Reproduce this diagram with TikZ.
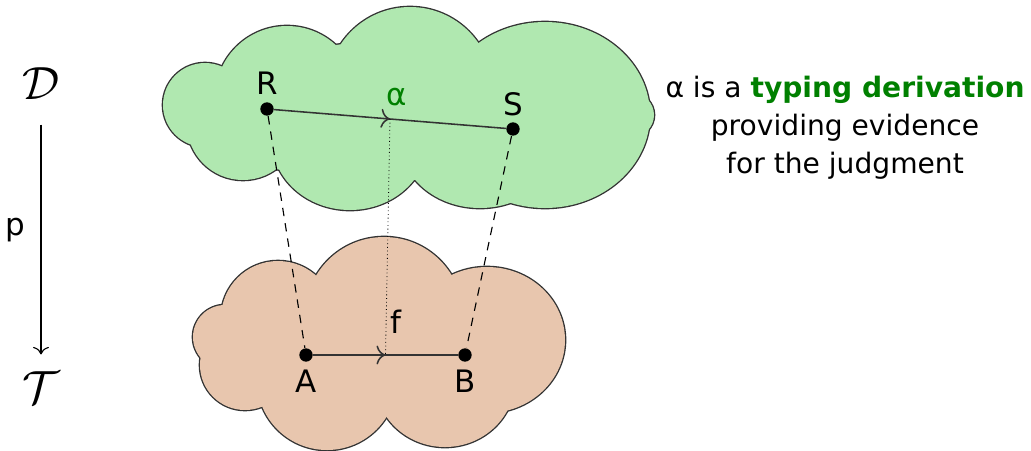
\documentclass[tikz,border=0pt]{standalone}
\usepackage{fontspec}
\setmainfont{DejaVu Sans}
\usetikzlibrary{decorations.markings, arrows.meta, positioning, calc}
\definecolor{derivgreen}{RGB}{176,232,176}
\definecolor{typeorange}{RGB}{232,198,174}
\definecolor{textgreen}{RGB}{0,128,0}

\begin{document}
\begin{tikzpicture}[x=0.025cm, y=-0.025cm, thick,
          dot/.style={circle, fill, inner sep=0pt, minimum size=9.5pt},
          lbl/.style={inner sep=0pt, font=\fontsize{22}{26}\selectfont},
          cat/.style={inner sep=0pt, font=\Huge, scale=1.33},
          midarrow/.style={postaction={decorate},
            decoration={markings, mark=at position 0.5 with {\arrow{To[scale=1.6]}}}},
        ]
          \useasboundingbox (0,0) rectangle (1031,450);
          % puffs of the two clouds: x/y/x radius/y radius
          \def\derivpuffs{287/98/72/72, 410/90/83/83, 545/115/105/93, 632/115/22/22,
            585/126/52/52, 480/140/80/68, 350/140/78/70, 243/124/56/56,
            205/105/42/42, 410/110/200/70}
          \def\typepuffs{225/337/32/32, 278/318/57/57, 384/316/79/79, 487/340/78/73,
            445/380/70/67, 327/380/70/70, 245/365/45/45, 380/345/150/70}
          \foreach \x/\y/\a/\b in \derivpuffs
            \draw[line width=1.9pt, black!80] (\x,\y) ellipse [x radius=\a, y radius=\b];
          \foreach \x/\y/\a/\b in \derivpuffs
            \fill[derivgreen] (\x,\y) ellipse [x radius=\a, y radius=\b];
          \foreach \x/\y/\a/\b in \typepuffs
            \draw[line width=1.9pt, black!80] (\x,\y) ellipse [x radius=\a, y radius=\b];
          \foreach \x/\y/\a/\b in \typepuffs
            \fill[typeorange] (\x,\y) ellipse [x radius=\a, y radius=\b];

          \node[dot] (R) at (267,109) {};
          \node[dot] (S) at (513,129) {};
          \node[dot] (A) at (306,355) {};
          \node[dot] (B) at (465,355) {};
          \node[lbl, above=5pt of R] (Rlbl) {R};
          \node[lbl, above=4pt of S] (Slbl) {S};
          \node[lbl, below=5pt of A] (Albl) {A};
          \node[lbl, below=5pt of B] (Blbl) {B};

          \draw[midarrow, black!80, line width=1.1pt] (R) -- (S);
          \draw[midarrow, black!80, line width=1.1pt] (A) -- (B);
          \draw[dash pattern=on 6pt off 5pt] (R) -- (A);
          \draw[dash pattern=on 6pt off 5pt] (S) -- (B);
          \draw[dotted, semithick] ($(R)!0.5!(S)$) -- ($(A)!0.5!(B)$);
          \node[lbl, text=textgreen] (alpha) at (397,97) {α};
          \node[lbl] (f) at (396,322) {f};

          \node[cat] (Dcat) at (41,84) {$\mathcal{D}$};
          \node[cat] (Tcat) at (41,388) {$\mathcal{T}$};
          \draw[-{To[scale=1.6]}, shorten <=17pt, shorten >=12pt] (Dcat) -- (Tcat);
          \node[lbl] (p) at (15,230) {p};

          \node[align=center, anchor=north, inner sep=0pt,
                font=\fontsize{20}{26.7}\selectfont] (judgment) at (845,76)
            {α is a \textcolor{textgreen}{\textbf{typing derivation}}\\
             providing evidence\\ for the judgment};
\end{tikzpicture}
\end{document}
